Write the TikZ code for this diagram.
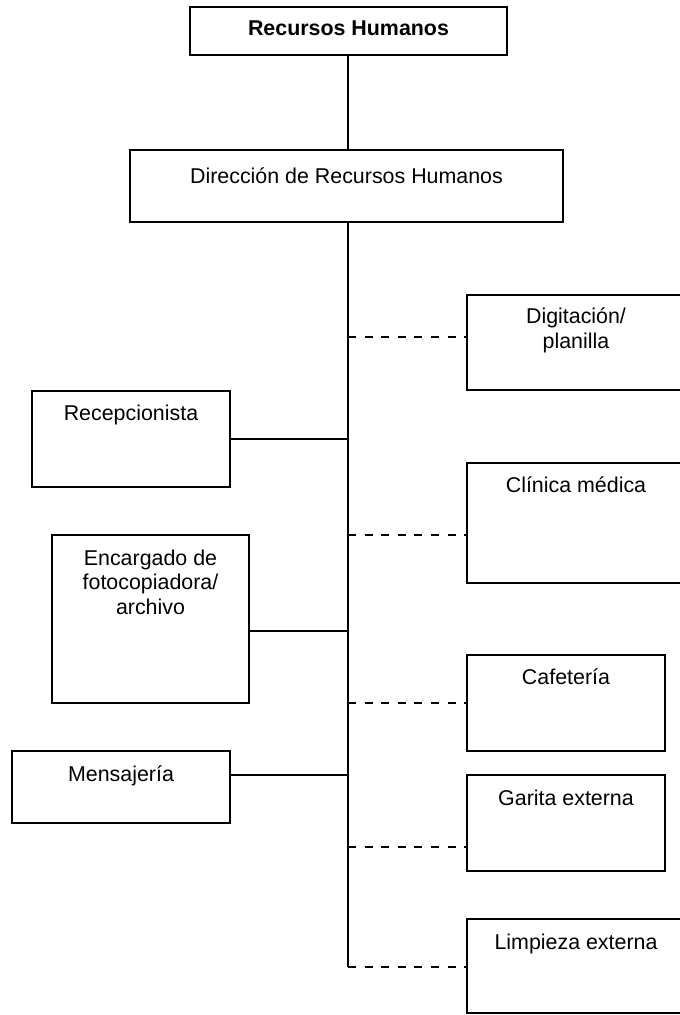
\documentclass[tikz,border=0pt]{standalone}
\usepackage{fontspec}
\setmainfont{Liberation Sans}
\begin{document}
\begin{tikzpicture}[x=0.5pt, y=-0.5pt,
  unit/.style={draw, line width=1pt, inner sep=0pt, rectangle},
  lbl/.style={inner sep=0pt, align=center, anchor=base,
    font=\fontsize{10.7}{12.3}\selectfont},
  solidlink/.style={line width=1pt},
  dashlink/.style={line width=1pt, dash pattern=on 4pt off 4.3pt}]
\useasboundingbox (0,0) rectangle (679,1015);

% boxes (centre in px, size in pt)
\node[unit, minimum width=158.5pt, minimum height=24pt] (top) at (348.5,31) {};
\node[unit, minimum width=216.5pt, minimum height=36pt] (dir) at (346.5,186) {};
\node[unit, minimum width=109pt, minimum height=47.5pt] (dig) at (576,342.5) {};
\node[unit, minimum width=99pt, minimum height=48pt] (rec) at (131,439) {};
\node[unit, minimum width=109pt, minimum height=60pt] (cli) at (576,523) {};
\node[unit, minimum width=98.5pt, minimum height=84pt] (enc) at (150.5,619) {};
\node[unit, minimum width=99pt, minimum height=48pt] (caf) at (566,703) {};
\node[unit, minimum width=109pt, minimum height=36pt] (men) at (121,787) {};
\node[unit, minimum width=99pt, minimum height=48pt] (gar) at (566,823) {};
\node[unit, minimum width=109pt, minimum height=47pt] (lim) at (576,966) {};

% texts (base anchor sits on the last line, so multi-line labels go lower)
\node[lbl, font=\fontsize{10.7}{12.3}\selectfont\bfseries] (t-top) at ([yshift=-15pt]top.north) {Recursos Humanos};
\node[lbl] (t-dir) at ([yshift=-17.5pt]dir.north) {Dirección de Recursos Humanos};
\node[lbl] (t-dig) at ([yshift=-27.3pt]dig.north) {Digitación/\\planilla};
\node[lbl] (t-rec) at ([yshift=-15pt]rec.north) {Recepcionista};
\node[lbl] (t-cli) at ([yshift=-15pt]cli.north) {Clínica médica};
\node[lbl] (t-enc) at ([yshift=-40.1pt]enc.north) {Encargado de\\fotocopiadora/\\archivo};
\node[lbl] (t-caf) at ([yshift=-15pt]caf.north) {Cafetería};
\node[lbl] (t-men) at ([yshift=-15.5pt]men.north) {Mensajería};
\node[lbl] (t-gar) at ([yshift=-15.5pt]gar.north) {Garita externa};
\node[lbl] (t-lim) at ([yshift=-15.5pt]lim.north) {Limpieza externa};

% junctions on the spine
\coordinate (j-dig) at (348,337);
\coordinate (j-rec) at (348,439);
\coordinate (j-cli) at (348,535);
\coordinate (j-enc) at (348,631);
\coordinate (j-caf) at (348,703);
\coordinate (j-men) at (348,775);
\coordinate (j-gar) at (348,847);
\coordinate (j-lim) at (348,967);

% spine
\draw[solidlink] (top.south -| j-lim) -- (dir.north -| j-lim);
\draw[solidlink] (dir.south -| j-lim) -- (j-lim);

% line positions
\draw[solidlink] (rec.east |- j-rec) -- (j-rec);
\draw[solidlink] (enc.east |- j-enc) -- (j-enc);
\draw[solidlink] (men.east |- j-men) -- (j-men);

% staff (dashed) positions
\draw[dashlink] (j-dig) -- (dig.west |- j-dig);
\draw[dashlink] (j-cli) -- (cli.west |- j-cli);
\draw[dashlink] (j-caf) -- (caf.west |- j-caf);
\draw[dashlink] (j-gar) -- (gar.west |- j-gar);
\draw[dashlink] (j-lim) -- (lim.west |- j-lim);
\end{tikzpicture}
\end{document}
